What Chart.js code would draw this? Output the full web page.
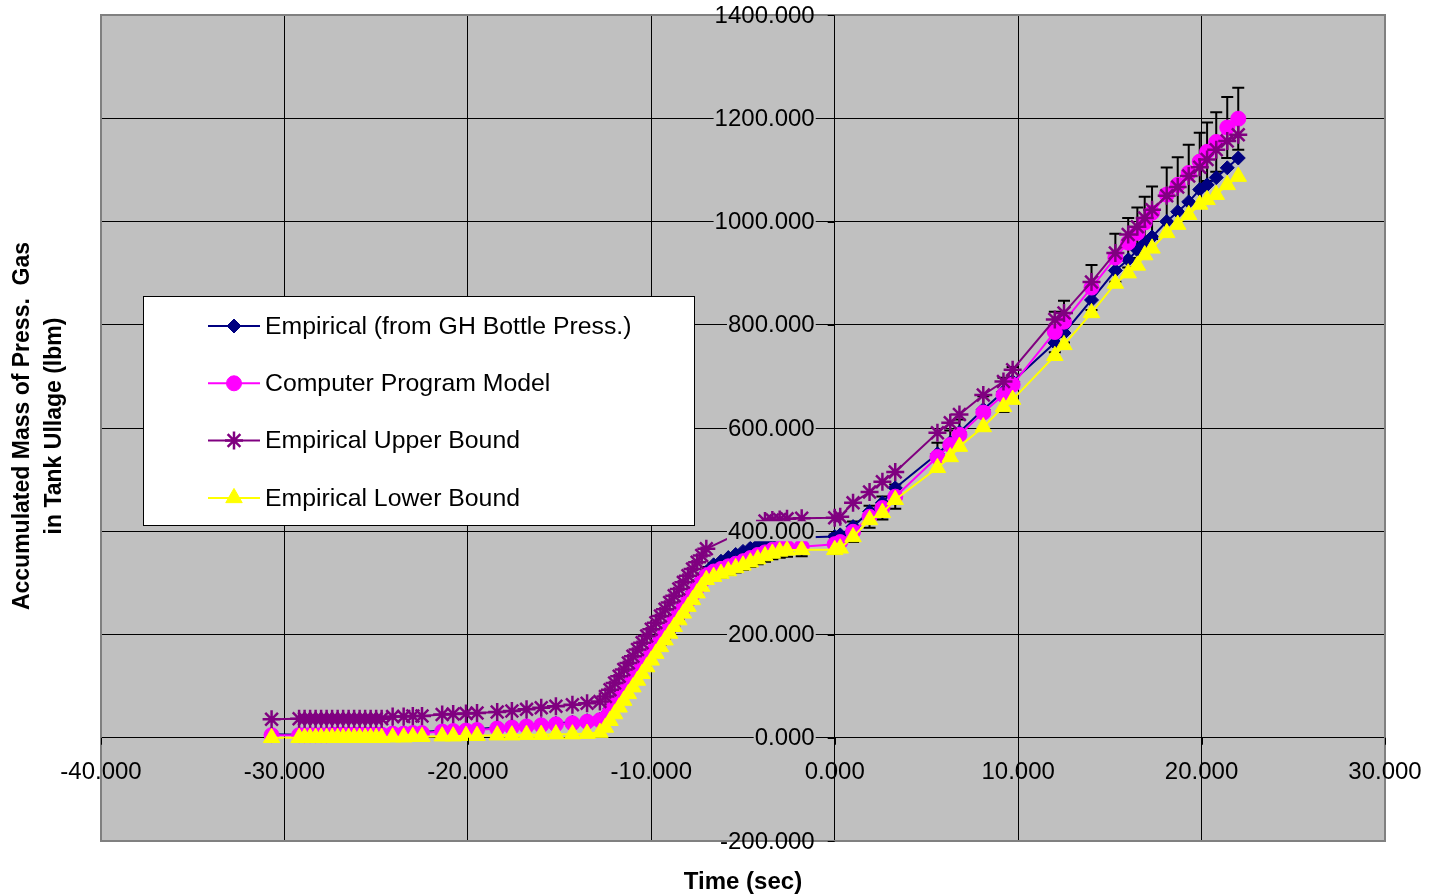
<!DOCTYPE html>
<html>
<head>
<meta charset="utf-8">
<title>Accumulated Mass of Press. Gas</title>
<script src="https://cdn.jsdelivr.net/npm/chart.js@4.4.1/dist/chart.umd.min.js"></script>
<style>
  html, body { margin: 0; padding: 0; background: #ffffff; }
  #chart { display: block; }
</style>
</head>
<body>
<canvas id="chart" width="1433" height="896"></canvas>
<script>
// ---------- Dades llegides de la gràfica ----------
const timeSec = [
  -30.7,
  -29.2, -28.9, -28.6, -28.3, -28.0, -27.7, -27.4, -27.1, -26.8, -26.5, -26.2, -25.9, -25.6, -25.3, -25.0, -24.7,
  -24.1, -23.5, -23.0, -22.5,
  -21.4, -20.8, -20.1, -19.5,
  -18.4, -17.6, -16.8, -16.0, -15.2, -14.3, -13.5, -12.8,
  -12.5, -12.25, -12.0, -11.75, -11.5, -11.25, -11.0, -10.75, -10.5, -10.25, -10.0, -9.75,
  -9.5, -9.25, -9.0, -8.75, -8.5, -8.25, -8.0, -7.75, -7.5, -7.25, -7.0,
  -6.6, -6.2, -5.8, -5.4, -5.0, -4.6, -4.2, -3.8, -3.4, -3.0, -2.6, -1.8,
  0.0, 0.3, 1.0, 1.9, 2.6, 3.3,
  5.6, 6.3, 6.8, 8.1, 9.2, 9.7,
  12.0, 12.5, 14.0, 15.3, 16.0, 16.5, 16.9, 17.3, 18.1, 18.7, 19.3, 19.9, 20.3, 20.8, 21.4, 22.0
];

const empirical = [
  7,
  6, 7, 7, 7, 7, 7, 8, 8, 8, 8, 8, 8, 8, 8, 8, 8,
  10, 10, 11, 11,
  14, 15, 16, 17,
  20, 22, 24, 26, 28, 30, 33, 36,
  44, 57, 69, 82, 94, 107, 120, 132, 145, 157, 170, 183,
  195, 208, 220, 233, 246, 258, 271, 283, 296, 309, 321,
  335, 342, 349, 355, 361, 367, 373, 379, 384, 388, 388, 388,
  390, 393, 409, 438, 455, 484,
  550, 572, 592, 636, 670, 690,
  765, 784, 848, 905, 926, 945, 958, 970, 1000, 1019, 1038, 1062, 1071, 1085, 1104, 1123
];

const model = [
  5,
  5, 5, 5, 5, 5, 5, 6, 6, 6, 6, 6, 6, 6, 6, 6, 6,
  8, 8, 9, 9,
  12, 13, 14, 15,
  18, 20, 22, 24, 26, 28, 31, 34,
  38, 51, 63, 76, 88, 101, 114, 126, 139, 151, 164, 177,
  189, 202, 214, 227, 240, 252, 265, 277, 290, 303, 315,
  322, 327, 332, 337, 342, 348, 354, 359, 364, 367, 369, 370,
  375, 379, 399, 428, 445, 467,
  544, 567, 587, 630, 664, 684,
  786, 806, 872, 930, 959, 978, 998, 1017, 1052, 1071, 1094, 1116, 1135, 1154, 1182, 1199
];

const upperBound = [
  36,
  37, 37, 37, 37, 37, 37, 37, 37, 37, 37, 37, 37, 37, 37, 37, 37,
  41, 41, 42, 42,
  45, 46, 47, 48,
  50, 52, 55, 58, 61, 64, 67, 70,
  80, 93, 106, 119, 132, 145, 158, 171, 184, 197, 210, 223,
  236, 249, 262, 275, 288, 301, 314, 327, 340, 353, 366,
  null, null, null, null, null, null, null, 420, 422, 423, 424, 425,
  426, 428, 455, 476, 496, 515,
  591, 610, 626, 664, 690, 713,
  810, 823, 883, 939, 975, 990, 1007, 1023, 1050, 1067, 1088, 1105, 1120, 1139, 1156, 1168
];

const lowerBound = [
  0,
  0, 0, 0, 0, 0, 0, 0, 0, 0, 0, 0, 0, 0, 0, 0, 0,
  1, 1, 2, 2,
  3, 3, 4, 4,
  5, 5, 6, 6, 7, 7, 8, 10,
  20, 33, 46, 59, 72, 85, 98, 111, 124, 137, 150, 163,
  176, 189, 202, 215, 228, 241, 254, 267, 280, 293, 306,
  312, 318, 323, 329, 334, 340, 346, 352, 357, 361, 363, 364,
  364, 367, 389, 422, 436, 461,
  523, 544, 564, 602, 641, 655,
  740, 761, 823, 880, 900, 915, 935, 948, 978, 994, 1013, 1033, 1042, 1052, 1071, 1087
];

const modelErrorPct = 0.05;

const xTicks = [-40, -30, -20, -10, 0, 10, 20, 30];
const yTicks = [-200, 0, 200, 400, 600, 800, 1000, 1200, 1400];

const seriesNames = [
  "Empirical (from GH Bottle Press.)",
  "Computer Program Model",
  "Empirical Upper Bound",
  "Empirical Lower Bound"
];

// ---------- Helpers ----------
const toPoints = values => timeSec.map((t, i) => ({ x: t, y: values[i] }));

function makeSeries(label, values, color, style, radius, order) {
  return {
    label: label,
    data: toPoints(values),
    borderColor: color,
    backgroundColor: color,
    borderWidth: 2,
    pointStyle: style,
    pointRadius: radius,
    pointBorderWidth: style === 'star' ? 2.5 : 1,
    pointBorderColor: color,
    pointBackgroundColor: color,
    tension: 0,
    spanGaps: true,
    order: order
  };
}

const FONT = "'Liberation Sans', Arial, sans-serif";

// fons gris de l'àrea del gràfic
const plotBackground = {
  id: 'plotBackground',
  beforeDraw(chart) {
    const { ctx, chartArea: a } = chart;
    ctx.save();
    ctx.fillStyle = '#c0c0c0';
    ctx.fillRect(a.left, a.top, a.right - a.left, a.bottom - a.top);
    ctx.restore();
  },
  afterDatasetsDraw(chart) {
    const { ctx, chartArea: a } = chart;
    ctx.save();
    ctx.strokeStyle = '#808080';
    ctx.lineWidth = 2;
    ctx.strokeRect(a.left, a.top, a.right - a.left, a.bottom - a.top);
    ctx.restore();
  }
};

// barres d'error del model (±5%)
const errorBars = {
  id: 'errorBars',
  beforeDatasetsDraw(chart) {
    const { ctx, scales: { x, y } } = chart;
    ctx.save();
    ctx.strokeStyle = '#000000';
    ctx.lineWidth = 2;
    model.forEach((v, i) => {
      if (v === null) return;
      const px = x.getPixelForValue(timeSec[i]);
      const top = y.getPixelForValue(v * (1 + modelErrorPct));
      const bot = y.getPixelForValue(v * (1 - modelErrorPct));
      ctx.beginPath();
      ctx.moveTo(px, top);
      ctx.lineTo(px, bot);
      ctx.moveTo(px - 6, top);
      ctx.lineTo(px + 6, top);
      ctx.moveTo(px - 6, bot);
      ctx.lineTo(px + 6, bot);
      ctx.stroke();
    });
    ctx.restore();
  }
};

// eixos creuats al zero, amb etiquetes opaques
const crossAxes = {
  id: 'crossAxes',
  afterDatasetsDraw(chart) {
    const { ctx, scales: { x, y } } = chart;
    const x0 = x.getPixelForValue(0);
    const y0 = y.getPixelForValue(0);
    ctx.save();
    ctx.strokeStyle = '#000000';
    ctx.lineWidth = 1;
    ctx.beginPath();
    yTicks.forEach(v => {
      const py = Math.round(y.getPixelForValue(v)) + 0.5;
      ctx.moveTo(x0 - 7, py);
      ctx.lineTo(x0, py);
    });
    xTicks.forEach(v => {
      const px = Math.round(x.getPixelForValue(v)) + 0.5;
      ctx.moveTo(px, y0);
      ctx.lineTo(px, y0 + 7);
    });
    ctx.stroke();

    ctx.font = '24px ' + FONT;
    ctx.textBaseline = 'middle';

    ctx.textAlign = 'right';
    yTicks.forEach(v => {
      const txt = v.toFixed(3);
      const py = y.getPixelForValue(v);
      const w = ctx.measureText(txt).width;
      ctx.fillStyle = '#c0c0c0';
      if (v > -200 && v < 1400) ctx.fillRect(x0 - 20 - w - 1, py - 10, w + 2, 20);
      ctx.fillStyle = '#000000';
      ctx.fillText(txt, x0 - 20, py + 1);
    });

    ctx.textAlign = 'center';
    xTicks.forEach(v => {
      const txt = v.toFixed(3);
      const px = x.getPixelForValue(v);
      ctx.fillStyle = '#000000';
      ctx.fillText(txt, px, y0 + 35);
    });

    // títols dels eixos
    ctx.font = 'bold 23px ' + FONT;
    ctx.fillStyle = '#000000';
    ctx.save();
    ctx.font = 'bold 24px ' + FONT;
    ctx.fillText('Time (sec)', (chart.chartArea.left + chart.chartArea.right) / 2, 882);
    ctx.restore();
    ctx.translate(0, 426);
    ctx.rotate(-Math.PI / 2);
    ctx.fillText('Accumulated Mass of Press.  Gas', 0, 23);
    ctx.fillText('in Tank Ullage (lbm)', 0, 55);
    ctx.restore();
  }
};

// llegenda dins del gràfic
const boxLegend = {
  id: 'boxLegend',
  afterDraw(chart) {
    const { ctx } = chart;
    const box = { left: 143, top: 296, width: 551, height: 229 };
    ctx.save();
    ctx.fillStyle = '#ffffff';
    ctx.fillRect(box.left, box.top, box.width, box.height);
    ctx.strokeStyle = '#000000';
    ctx.lineWidth = 1;
    ctx.strokeRect(box.left + 0.5, box.top + 0.5, box.width, box.height);

    ctx.font = '24.8px ' + FONT;
    ctx.textAlign = 'left';
    ctx.textBaseline = 'middle';
    chart.data.datasets.forEach((ds, i) => {
      const yy = box.top + 30 + i * 57.3;
      ctx.strokeStyle = ds.borderColor;
      ctx.lineWidth = 2;
      ctx.beginPath();
      ctx.moveTo(208, yy);
      ctx.lineTo(260, yy);
      ctx.stroke();
      ctx.fillStyle = ds.backgroundColor;
      ctx.lineWidth = ds.pointBorderWidth;
      Chart.helpers.drawPoint(ctx, {
        pointStyle: ds.pointStyle,
        radius: ds.pointRadius,
        rotation: 0,
        borderWidth: ds.pointBorderWidth
      }, 234, yy);
      ctx.fillStyle = '#000000';
      ctx.fillText(ds.label, 265, yy + 1);
    });
    ctx.restore();
  }
};

// ---------- Gràfica ----------
const ctx = document.getElementById('chart').getContext('2d');

new Chart(ctx, {
  type: 'line',
  data: {
    datasets: [
      makeSeries(seriesNames[0], empirical, '#000080', 'rectRot', 7, 4),
      makeSeries(seriesNames[1], model, '#ff00ff', 'circle', 7.5, 3),
      makeSeries(seriesNames[2], upperBound, '#800080', 'star', 9, 2),
      makeSeries(seriesNames[3], lowerBound, '#ffff00', 'triangle', 9.5, 1)
    ]
  },
  options: {
    responsive: false,
    animation: false,
    layout: { padding: { left: 101, top: 15, right: 48, bottom: 55 } },
    plugins: {
      legend: { display: false },
      tooltip: { enabled: false }
    },
    scales: {
      x: {
        type: 'linear',
        min: -40,
        max: 30,
        ticks: { stepSize: 10, display: false },
        grid: { color: '#000000', lineWidth: 1, drawTicks: false },
        border: { display: false }
      },
      y: {
        type: 'linear',
        min: -200,
        max: 1400,
        ticks: { stepSize: 200, display: false },
        grid: { color: '#000000', lineWidth: 1, drawTicks: false },
        border: { display: false }
      }
    }
  },
  plugins: [plotBackground, errorBars, crossAxes, boxLegend]
});
</script>
</body>
</html>
